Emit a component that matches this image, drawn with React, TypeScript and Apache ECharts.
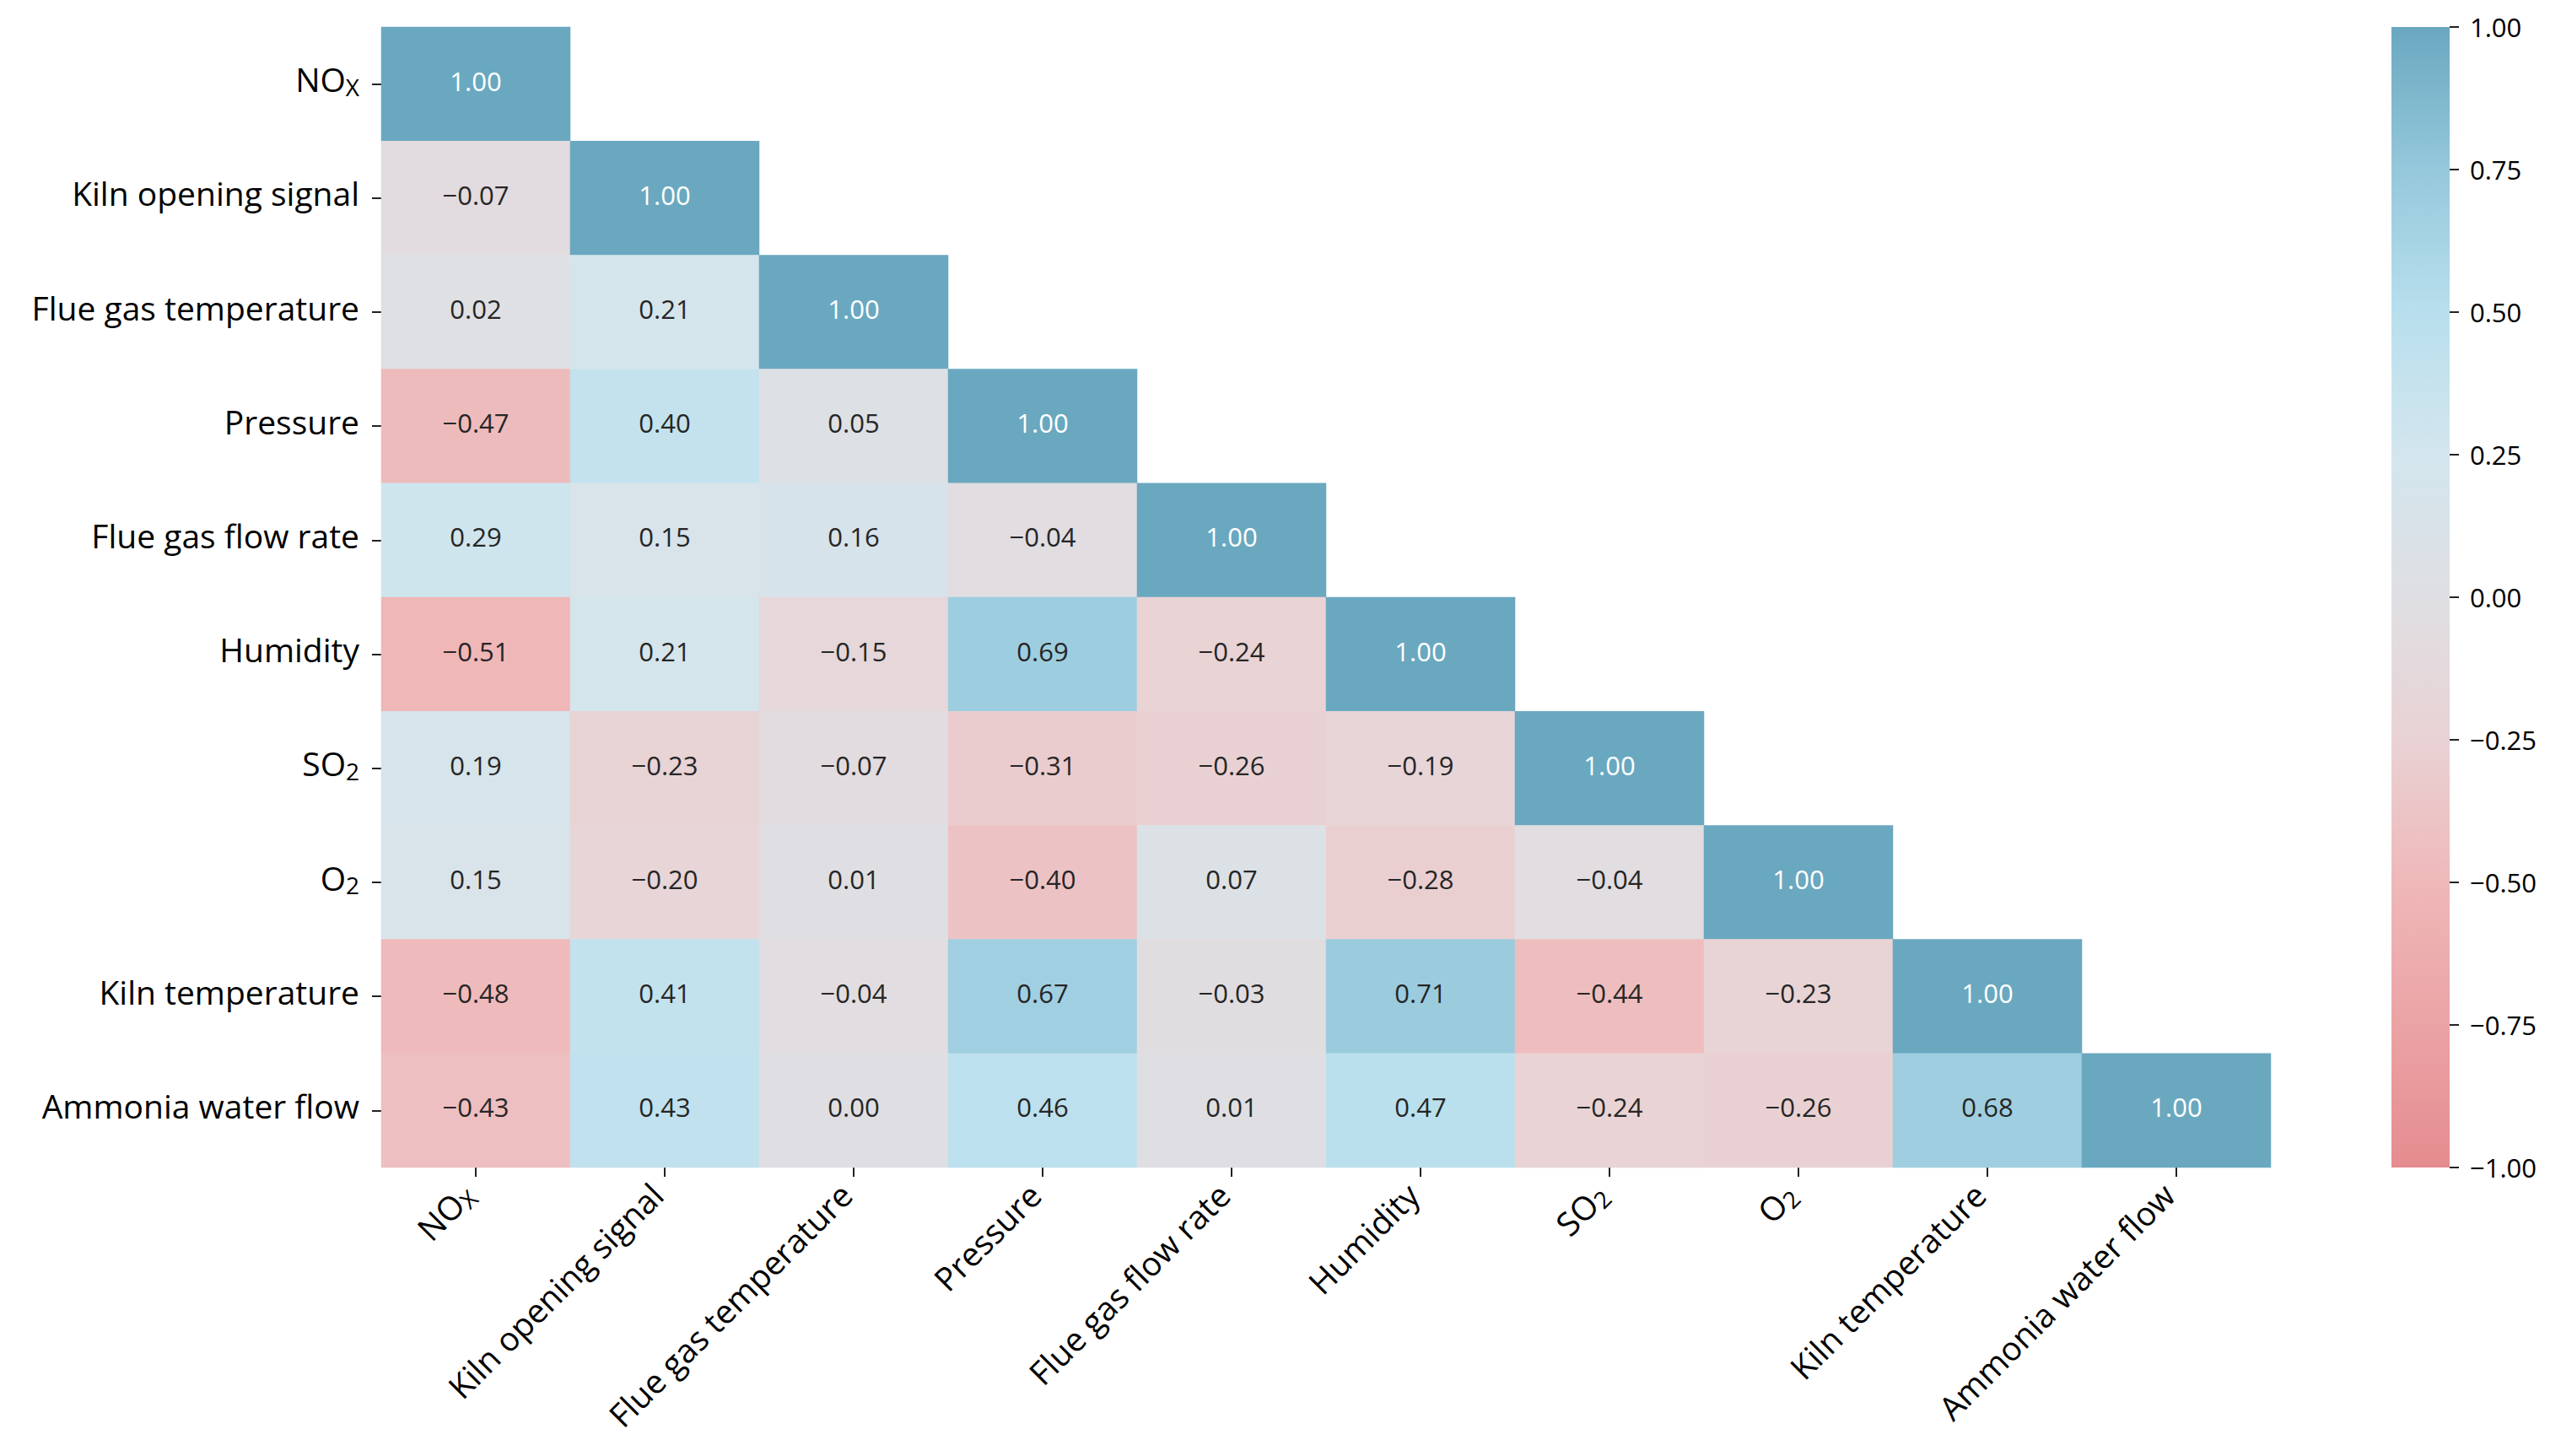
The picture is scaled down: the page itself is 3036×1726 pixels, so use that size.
import React, { useEffect, useRef } from "react";
import * as echarts from "echarts";

const categories = [
  "NOx",
  "Kiln opening signal",
  "Flue gas temperature",
  "Pressure",
  "Flue gas flow rate",
  "Humidity",
  "SO2",
  "O2",
  "Kiln temperature",
  "Ammonia water flow",
];

// lower-triangle rows (row i holds columns 0..i)
const row0 = [1.0];
const row1 = [-0.07, 1.0];
const row2 = [0.02, 0.21, 1.0];
const row3 = [-0.47, 0.4, 0.05, 1.0];
const row4 = [0.29, 0.15, 0.16, -0.04, 1.0];
const row5 = [-0.51, 0.21, -0.15, 0.69, -0.24, 1.0];
const row6 = [0.19, -0.23, -0.07, -0.31, -0.26, -0.19, 1.0];
const row7 = [0.15, -0.2, 0.01, -0.4, 0.07, -0.28, -0.04, 1.0];
const row8 = [-0.48, 0.41, -0.04, 0.67, -0.03, 0.71, -0.44, -0.23, 1.0];
const row9 = [-0.43, 0.43, 0.0, 0.46, 0.01, 0.47, -0.24, -0.26, 0.68, 1.0];
const rows = [row0, row1, row2, row3, row4, row5, row6, row7, row8, row9];

const colorbarRange = [-1, 1];

const colorStops = [
  "#e58c8f",
  "#eba3a5",
  "#efb8b9",
  "#e9d2d4",
  "#dfdfe3",
  "#d3e6ee",
  "#b8dfed",
  "#95c8db",
  "#6aa8c0",
];

const FONT = "'Open Sans', 'Noto Sans', sans-serif";

const fmtNum = (v: number) => (v < 0 ? "\u2212" : "") + Math.abs(v).toFixed(2);

const fmtCat = (name: string) => {
  if (name === "NOx") return "NO{sub|X}";
  if (name === "SO2") return "SO{sub|2}";
  if (name === "O2") return "O{sub|2}";
  return name;
};

const subRich = {
  sub: { fontSize: 28, fontFamily: FONT, color: "#000", padding: [18, 0, 0, 0] },
};

export default function App() {
  const ref = useRef<HTMLDivElement>(null);
  useEffect(() => {
    document.body.style.margin = "0";
    const chart = echarts.init(ref.current!, null, { renderer: "svg" });
    const data: any[] = [];
    rows.forEach((r, i) => {
      r.forEach((v, j) => {
        const item: any = { value: [j, i, v] };
        if (v >= 0.9) item.label = { color: "#ffffff" };
        data.push(item);
      });
    });
    const n = colorStops.length;
    const gradient = new echarts.graphic.LinearGradient(
      0,
      0,
      0,
      1,
      colorStops
        .slice()
        .reverse()
        .map((c, i) => ({ offset: i / (n - 1), color: c }))
    );
    chart.setOption({
      animation: false,
      backgroundColor: "#ffffff",
      grid: [{ left: 452, top: 32, width: 2240, height: 1352 }],
      graphic: [
        {
          type: "rect",
          left: 2835,
          top: 32,
          shape: { width: 69, height: 1352 },
          style: { fill: gradient },
          z: 0,
        },
      ],
      singleAxis: {
        type: "value",
        orient: "vertical",
        position: "right",
        inverse: false,
        left: 2835,
        top: 32,
        width: 69,
        height: 1352,
        min: colorbarRange[0],
        max: colorbarRange[1],
        interval: 0.25,
        axisLine: { show: false },
        axisTick: { show: true, length: 11, lineStyle: { color: "#222", width: 2 } },
        splitLine: { show: false },
        splitArea: { show: false },
        axisPointer: { show: false },
        axisLabel: {
          margin: 24,
          fontSize: 31,
          fontFamily: FONT,
          color: "#000",
          formatter: (v: number) => fmtNum(v),
        },
      },
      xAxis: {
        type: "category",
        data: categories,
        axisLine: { show: false },
        axisTick: { show: true, alignWithLabel: true, length: 11, lineStyle: { color: "#222", width: 2 } },
        splitLine: { show: false },
        axisLabel: {
          rotate: 45,
          margin: 22,
          fontSize: 39,
          fontFamily: FONT,
          color: "#000",
          padding: [0, 9, 9, 0],
          formatter: fmtCat,
          rich: subRich,
        },
      },
      yAxis: {
        type: "category",
        data: categories,
        inverse: true,
        axisLine: { show: false },
        axisTick: { show: true, alignWithLabel: true, length: 11, lineStyle: { color: "#222", width: 2 } },
        splitLine: { show: false },
        axisLabel: {
          margin: 26,
          fontSize: 39,
          fontFamily: FONT,
          color: "#000",
          padding: [0, 0, 12, 0],
          formatter: fmtCat,
          rich: subRich,
        },
      },
      visualMap: {
        type: "continuous",
        min: -1,
        max: 1,
        show: false,
        seriesIndex: 0,
        inRange: { color: colorStops },
      },
      series: [
        {
          type: "heatmap",
          data,
          label: {
            show: true,
            fontSize: 31,
            fontFamily: FONT,
            color: "#262626",
            offset: [0, -4],
            formatter: (p: any) => fmtNum(p.value[2]),
          },
          itemStyle: { borderWidth: 0 },
          emphasis: { disabled: true },
        },
        {
          type: "scatter",
          coordinateSystem: "singleAxis",
          singleAxisIndex: 0,
          data: colorbarRange,
          symbolSize: 0,
          silent: true,
          itemStyle: { opacity: 0 },
        },
      ],
    });
    return () => chart.dispose();
  }, []);
  return (
    <div
      ref={ref}
      style={{ position: "fixed", left: 0, top: 0, width: "3036px", height: "1726px" }}
    />
  );
}
